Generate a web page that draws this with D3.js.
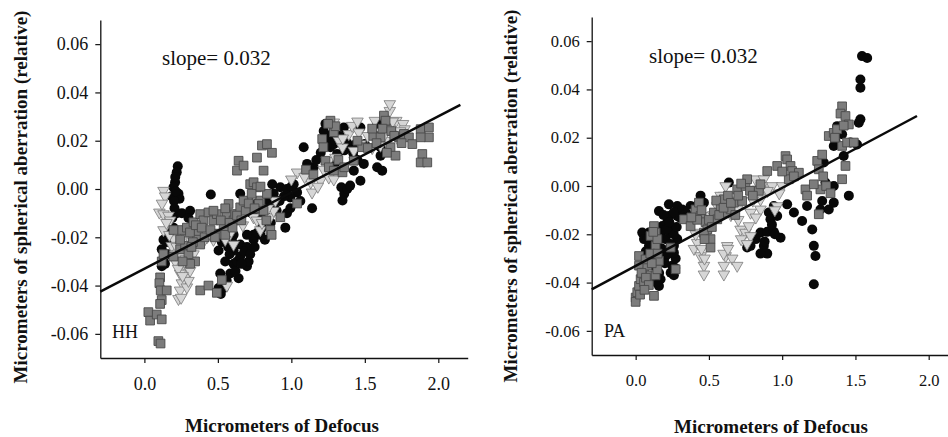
<!DOCTYPE html>
<html lang="en">
<head>
<meta charset="UTF-8">
<title>Spherical aberration vs defocus</title>
<style>
    body { margin: 0; background: #fff; }
    svg { display: block; }
</style>
</head>
<body>
<svg id="chart" width="948" height="437"></svg>
<script src="https://d3js.org/d3.v7.min.js"></script>
<script>
const serif = "'Liberation Serif', 'Times New Roman', serif";

// tick labels
const xTicks = [0, 0.5, 1.0, 1.5, 2.0];
const yTicks = [-0.06, -0.04, -0.02, 0.00, 0.02, 0.04, 0.06];
const xTitle = 'Micrometers of Defocus';
const yTitle = 'Micrometers of spherical aberration (relative)';
const slopeLabel = 'slope= 0.032';

// HH subject: [defocus, spherical aberration]
const hhCircles = [
    [0.227,0.0094],[0.22,0.0069],[0.209,0.0028],[0.198,0.0007],[0.232,-0.002],[0.239,-0.004],
    [0.186,-0.003],[0.202,-0.005],[0.22,-0.010],[0.255,-0.010],[0.311,-0.009],[0.30,-0.012],
    [0.198,-0.016],[0.13,-0.021],[0.118,-0.025],[0.14,-0.031],[0.118,-0.032],[0.452,-0.0023],
    [0.505,-0.0255],[0.516,-0.035],[0.52,-0.0435],[0.505,-0.041],[0.56,-0.038],[0.584,-0.035],
    [0.607,-0.031],[0.63,-0.030],[0.652,-0.028],[0.698,-0.032],[0.709,-0.030],[0.641,-0.037],
    [0.607,-0.0255],[0.652,-0.023],[0.698,-0.024],[0.743,-0.021],[0.789,-0.019],[0.82,-0.021],
    [0.743,-0.019],[0.698,-0.019],[0.607,-0.019],[0.527,-0.022],[0.652,-0.002],[0.709,-0.005],
    [0.766,-0.006],[0.811,-0.010],[0.834,-0.005],[0.88,-0.002],[0.925,0.0007],[0.902,-0.005],
    [0.97,-0.010],[0.959,-0.016],[0.993,-0.008],[1.016,0.002],[1.039,-0.0014],[1.061,-0.005],
    [1.084,0.0173],[1.107,0.0104],[1.152,0.009],[1.141,-0.008],[0.993,-0.0035],[1.232,0.027],
    [1.255,0.0214],[1.266,0.0173],[1.289,0.0186],[1.311,0.0145],[1.357,0.0255],[1.402,0.0173],
    [1.425,0.013],[1.439,0.0186],[1.493,0.0104],[1.425,0.0076],[1.34,0.0007],[1.36,-0.002],
    [1.38,0.0],[1.40,0.0014],[1.348,-0.0048],[1.47,0.0034],[1.584,0.009],[1.618,0.0076],
    [1.607,0.0138],[1.607,0.0173],[1.652,0.0255],[1.50,0.0186],[1.584,0.027],[1.47,0.0255],
    [0.21,0.005],[0.215,-0.001],[0.205,-0.008],[0.19,-0.012],[0.17,-0.018],[0.15,-0.022],
    [0.16,-0.027],[0.13,-0.029],[0.55,-0.030],[0.58,-0.027],[0.62,-0.034],[0.66,-0.031],
    [0.68,-0.026],[0.72,-0.027],[0.75,-0.024],[0.77,-0.018],[0.80,-0.016],[0.84,-0.012],
    [0.86,-0.014],[0.88,-0.008],[0.90,-0.009],[0.92,-0.005],[0.95,-0.003],[0.97,0.0],
    [1.0,0.001],[0.54,-0.041],[0.60,-0.022],[0.57,-0.024],[0.70,-0.008],[0.73,-0.010],
    [0.76,-0.012],[0.78,-0.008],[0.85,-0.003],[0.87,0.002],[0.82,-0.006],[1.22,0.024],
    [1.24,0.018],[1.28,0.023],[1.30,0.020],[1.33,0.022],[1.36,0.016],[1.38,0.019],
    [1.42,0.015],[1.45,0.012],[1.30,0.011],[1.20,0.015],[1.17,0.012],[1.12,0.009]
];
const hhSquares = [
    [0.027,-0.051],[0.039,-0.0545],[0.084,-0.052],[0.118,-0.054],[0.095,-0.063],[0.11,-0.064],
    [0.107,-0.0366],[0.102,-0.039],[0.111,-0.042],[0.118,-0.046],[0.107,-0.0476],[0.152,-0.042],
    [0.118,-0.030],[0.13,-0.027],[0.198,-0.028],[0.243,-0.025],[0.255,-0.017],[0.289,-0.016],
    [0.334,-0.0138],[0.38,-0.0104],[0.402,-0.013],[0.436,-0.0097],[0.47,-0.013],[0.493,-0.0104],
    [0.505,-0.0186],[0.539,-0.016],[0.561,-0.0104],[0.573,-0.0062],[0.607,-0.013],[0.618,-0.0104],
    [0.652,-0.0076],[0.675,-0.0048],[0.72,0.002],[0.743,0.0028],[0.766,0.0007],[0.789,-0.0048],
    [0.777,-0.0062],[0.811,-0.009],[0.834,-0.002],[0.857,-0.017],[0.866,-0.019],[0.368,-0.018],
    [0.357,-0.021],[0.38,-0.023],[0.345,-0.030],[0.311,-0.031],[0.277,-0.0235],[0.243,-0.021],
    [0.198,-0.017],[0.38,-0.042],[0.436,-0.040],[0.493,-0.043],[0.527,-0.0377],[0.641,0.0117],
    [0.63,0.0076],[0.675,0.0097],[0.766,0.013],[0.80,0.018],[0.834,0.0186],[0.868,0.015],
    [0.811,0.0076],[0.925,-0.0117],[1.039,-0.006],[1.21,0.0207],[1.218,0.0173],[1.266,0.0283],
    [1.289,0.0235],[1.232,0.0117],[1.255,0.009],[1.348,0.0069],[1.289,0.0076],[1.425,0.0117],
    [1.482,0.0173],[1.557,0.022],[1.607,0.0214],[1.63,0.0304],[1.641,0.0283],[1.675,0.0173],
    [1.709,0.0138],[1.732,0.0214],[1.766,0.0228],[1.80,0.0214],[1.823,0.0186],[1.88,0.0248],
    [1.936,0.0255],[1.936,0.0214],[1.88,0.0214],[1.891,0.0145],[1.88,0.011],[1.925,0.011],
    [0.31,-0.018],[0.33,-0.022],[0.35,-0.015],[0.39,-0.016],[0.41,-0.020],[0.45,-0.017],
    [0.48,-0.020],[0.52,-0.013],[0.55,-0.019],[0.58,-0.014],[0.60,-0.016],[0.63,-0.011],
    [0.66,-0.013],[0.69,-0.009],[0.71,-0.006],[0.73,-0.002],[0.75,-0.008],[0.79,0.001],
    [0.83,-0.013],[0.30,-0.027],[0.32,-0.024],[0.26,-0.030],[0.47,-0.009],[0.55,-0.008],
    [1.30,0.026],[1.25,0.027],[1.32,0.012],[1.36,0.009],[1.45,0.020],[1.52,0.017],
    [1.55,0.025],[1.58,0.019],[1.62,0.025],[1.68,0.024],[1.70,0.022],[1.75,0.019],
    [1.65,0.015],[1.10,0.008],[1.15,0.006]
];
const hhTriangles = [
    [0.13,-0.0007],[0.141,-0.003],[0.102,-0.0097],[0.13,-0.0104],[0.164,-0.011],[0.175,-0.013],
    [0.13,-0.017],[0.198,-0.0207],[0.186,-0.0235],[0.22,-0.024],[0.209,-0.027],[0.255,-0.028],
    [0.266,-0.031],[0.289,-0.032],[0.243,-0.035],[0.277,-0.0366],[0.255,-0.039],[0.243,-0.042],
    [0.232,-0.0455],[0.289,-0.0407],[0.30,-0.038],[0.311,-0.0338],[0.334,-0.027],[0.277,-0.0193],
    [0.289,-0.0214],[0.38,-0.0186],[0.425,-0.020],[0.47,-0.021],[0.561,-0.040],[0.584,-0.0186],
    [0.607,-0.023],[0.698,-0.0048],[0.709,-0.0076],[0.743,-0.0117],[0.766,-0.013],[0.789,-0.017],
    [0.857,-0.0117],[0.88,-0.009],[0.891,-0.0048],[1.039,0.0069],[1.132,0.0028],[1.141,-0.0014],
    [1.198,0.0034],[1.255,0.0048],[1.289,0.004],[1.255,0.0117],[1.289,0.0276],[1.323,0.020],
    [1.348,0.0173],[1.391,0.0228],[1.414,0.0262],[1.459,0.0235],[1.47,0.0186],[1.425,0.0159],
    [1.568,0.0283],[1.659,0.0248],[1.67,0.0324],[1.67,0.0352],[1.714,0.0283],[1.76,0.027],
    [1.77,0.0248],[1.659,0.020],[1.607,0.018],[1.725,0.0207],
    [0.12,-0.006],[0.15,-0.014],[0.17,-0.019],[0.21,-0.030],[0.23,-0.033],[0.26,-0.036],
    [0.28,-0.029],[0.30,-0.025],[0.32,-0.022],[0.25,-0.045],[0.36,-0.020],[0.40,-0.022],
    [0.50,-0.018],[0.55,-0.021],[0.64,-0.010],[0.67,-0.015],[0.72,-0.008],[0.80,-0.014],
    [0.84,-0.008],[1.00,0.004],[1.09,0.005],[1.18,0.001],[1.22,0.008],[1.30,0.013],
    [1.35,0.021],[1.45,0.028],[1.52,0.022],[1.55,0.017],[1.63,0.022],[1.69,0.028],[1.74,0.024]
];
const hhFitX = [-0.3, 2.15];
const hhFitY = [-0.0425, 0.0348];

// PA subject
const paCircles = [
    [0.045,-0.0193],[0.057,-0.022],[0.091,-0.0248],[0.136,-0.0276],[0.148,-0.030],[0.125,-0.033],
    [0.159,-0.0414],[0.17,-0.0386],[0.239,-0.0359],[0.261,-0.037],[0.25,-0.033],[0.273,-0.030],
    [0.261,-0.0248],[0.284,-0.022],[0.25,-0.018],[0.216,-0.015],[0.182,-0.0166],[0.17,-0.0193],
    [0.205,-0.022],[0.227,-0.0124],[0.159,-0.0104],[0.227,-0.0076],[0.284,-0.0083],[0.318,-0.0097],
    [0.375,-0.0083],[0.284,-0.0124],[0.239,-0.0193],[0.261,-0.0276],[0.205,-0.029],[0.091,-0.0193],
    [0.125,-0.022],[0.443,-0.004],[0.466,-0.0069],[0.636,0.0014],[0.784,-0.0248],[0.761,-0.0255],
    [0.852,-0.0193],[0.875,-0.0248],[0.898,-0.028],[0.852,-0.028],[0.898,-0.019],[0.943,-0.019],
    [0.989,-0.0214],[0.909,-0.011],[0.943,-0.0083],[0.92,-0.0138],[0.966,-0.0124],[1.034,-0.0076],
    [1.08,-0.011],[1.136,-0.0145],[1.17,-0.0083],[1.205,-0.018],[1.216,-0.0248],[1.227,-0.029],
    [1.216,-0.0407],[1.261,-0.0097],[1.273,-0.0062],[1.318,-0.0097],[1.352,-0.0069],[1.295,0.0014],
    [1.352,0.0],[1.455,-0.004],[1.352,0.0166],[1.364,0.0186],[1.375,0.0248],[1.409,0.0214],
    [1.466,0.018],[1.511,0.0172],[1.523,0.0262],[1.534,0.0276],[1.42,0.0124],[1.534,0.0407],
    [1.534,0.0441],[1.545,0.0538],[1.58,0.053],[1.284,0.0097],
    [0.07,-0.027],[0.10,-0.030],[0.12,-0.027],[0.15,-0.024],[0.18,-0.026],[0.20,-0.032],
    [0.22,-0.028],[0.24,-0.024],[0.26,-0.020],[0.28,-0.017],[0.30,-0.013],[0.21,-0.018],
    [0.19,-0.012],[0.23,-0.015],[0.27,-0.034],[0.16,-0.036],[0.14,-0.040],[0.11,-0.024],
    [0.08,-0.022],[0.26,-0.011],[0.33,-0.012],[0.36,-0.010],[0.40,-0.010],[0.42,-0.008],
    [0.82,-0.022],[0.88,-0.023],[0.93,-0.016],[0.95,-0.020]
];
const paSquares = [
    [0.0,-0.0462],[0.011,-0.044],[0.0,-0.048],[0.023,-0.0414],[0.034,-0.0386],[0.023,-0.033],
    [0.023,-0.029],[0.057,-0.0359],[0.057,-0.040],[0.08,-0.033],[0.102,-0.037],[0.068,-0.0304],
    [0.125,-0.0455],[0.136,-0.037],[0.148,-0.0345],[0.159,-0.031],[0.125,-0.0166],[0.136,-0.0193],
    [0.136,-0.0248],[0.102,-0.0207],[0.148,-0.022],[0.239,-0.0255],[0.273,-0.0345],[0.33,-0.0138],
    [0.375,-0.0166],[0.409,-0.0097],[0.432,-0.0069],[0.443,-0.0124],[0.477,-0.015],[0.489,-0.018],
    [0.466,-0.0193],[0.511,-0.022],[0.511,-0.0255],[0.534,-0.011],[0.557,-0.0138],[0.58,-0.0083],
    [0.602,-0.0055],[0.625,-0.011],[0.648,-0.0097],[0.67,-0.0069],[0.693,-0.0014],[0.727,-0.0062],
    [0.75,0.0],[0.761,0.0028],[0.841,-0.002],[0.852,0.0007],[0.898,0.0062],[0.966,0.0083],
    [1.023,0.0124],[1.034,0.011],[1.057,0.0083],[1.068,0.0062],[1.045,0.0028],[1.114,0.0055],
    [1.159,-0.0014],[1.17,-0.004],[1.239,0.0104],[1.25,0.0069],[1.273,0.013],[1.261,-0.0014],
    [1.25,-0.0117],[1.216,0.0007],[1.318,0.0207],[1.352,0.022],[1.375,0.0235],[1.409,0.033],
    [1.398,0.030],[1.432,0.029],[1.455,0.0255],[1.409,0.0166],[1.443,0.018],[1.432,0.0083],
    [1.409,0.0028],[1.489,0.018],
    [0.04,-0.036],[0.07,-0.038],[0.09,-0.041],[0.11,-0.032],[0.03,-0.045],[0.06,-0.043],
    [0.10,-0.028],[0.15,-0.028],[0.12,-0.019],[0.42,-0.014],[0.45,-0.010],[0.50,-0.014],
    [0.52,-0.017],[0.55,-0.006],[0.57,-0.012],[0.60,-0.009],[0.63,-0.004],[0.65,-0.007],
    [0.68,-0.012],[0.70,-0.004],[0.72,0.001],[0.78,-0.002],[0.80,-0.004],[0.47,-0.022],
    [0.38,-0.013],[1.08,0.004],[1.00,0.006],[1.28,0.004],[1.30,0.0],[1.33,-0.003],
    [1.36,0.020],[1.42,0.025]
];
const paTriangles = [
    [0.398,-0.026],[0.42,-0.0235],[0.443,-0.029],[0.466,-0.033],[0.466,-0.0366],[0.443,-0.0193],
    [0.489,-0.0193],[0.511,-0.0124],[0.557,-0.0083],[0.602,-0.004],[0.614,0.0],[0.625,-0.0248],
    [0.614,-0.029],[0.602,-0.033],[0.602,-0.0366],[0.659,-0.030],[0.693,-0.033],[0.716,-0.018],
    [0.75,-0.0193],[0.773,-0.0166],[0.784,-0.011],[0.818,0.0028],[0.83,-0.0014],[0.852,-0.0055],
    [0.886,-0.0014],[0.875,0.0028],[0.932,0.0],[0.966,-0.0083],[1.0,0.0],[0.852,-0.0097],
    [0.693,-0.0097],[0.58,-0.004],[0.409,-0.011],[0.784,-0.0207],
    [0.41,-0.020],[0.45,-0.026],[0.47,-0.030],[0.50,-0.016],[0.53,-0.012],[0.60,-0.028],
    [0.63,-0.026],[0.65,-0.012],[0.67,-0.006],[0.70,-0.014],[0.72,-0.022],[0.76,-0.024],
    [0.80,-0.006],[0.82,-0.013],[0.90,-0.002],[0.95,-0.010],[0.98,-0.003],[0.86,0.0]
];
const paFitX = [-0.3, 1.92];
const paFitY = [-0.0428, 0.029];

const svg = d3.select('#chart');

const panels = [
    { name: 'HH', circles: hhCircles, squares: hhSquares, triangles: hhTriangles,
      fitX: hhFitX, fitY: hhFitY, x0: 100.3, x1: 467.7, y0: 358, y1: 20,
      yTitleX: 27, yTitleY: 197, xTitleX: 282, xTitleY: 432,
      slopeX: 162, slopeY: 65, idX: 112, idY: 338, tickFont: 18 },
    { name: 'PA', circles: paCircles, squares: paSquares, triangles: paTriangles,
      fitX: paFitX, fitY: paFitY, x0: 591.7, x1: 958, y0: 355, y1: 17,
      yTitleX: 517, yTitleY: 196, xTitleX: 771, xTitleY: 433,
      slopeX: 649, slopeY: 63, idX: 604, idY: 337, tickFont: 16.5 }
];

const triangle = d3.symbol().type(d3.symbolTriangle).size(58)();
const square = d3.symbol().type(d3.symbolSquare).size(76)();

panels.forEach(p => {
    const x = d3.scaleLinear().domain([-0.3, 2.2]).range([p.x0, p.x1]);
    const y = d3.scaleLinear().domain([-0.07, 0.07]).range([p.y0, p.y1]);
    const g = svg.append('g');

    // axes
    const yAxis = g.append('g')
        .attr('transform', `translate(${p.x0},0)`)
        .call(d3.axisLeft(y).tickValues(yTicks).tickFormat(d => d.toFixed(2))
            .tickSize(5).tickSizeOuter(0).tickPadding(7));
    const xAxis = g.append('g')
        .attr('transform', `translate(0,${p.y0})`)
        .call(d3.axisBottom(x).tickValues(xTicks).tickFormat(d => d.toFixed(1))
            .tickSize(5).tickSizeOuter(0).tickPadding(14));
    [yAxis, xAxis].forEach(a => {
        a.attr('font-family', serif).attr('font-size', p.tickFont);
        a.select('.domain').attr('stroke', '#111').attr('stroke-width', 1.3);
        a.selectAll('.tick line').attr('stroke', '#111').attr('stroke-width', 1.2);
        a.selectAll('.tick text').attr('fill', '#111');
    });

    // circles
    g.append('g').selectAll('circle')
        .data(p.circles)
        .join('circle')
        .attr('cx', d => x(d[0]))
        .attr('cy', d => y(d[1]))
        .attr('r', 5)
        .attr('fill', '#080808');

    // triangles (pointing down)
    g.append('g').selectAll('path')
        .data(p.triangles)
        .join('path')
        .attr('d', triangle)
        .attr('transform', d => `translate(${x(d[0])},${y(d[1])}) rotate(180)`)
        .attr('fill', '#d6d6d6')
        .attr('stroke', '#7a7a7a')
        .attr('stroke-width', 0.8);

    // squares
    g.append('g').selectAll('path')
        .data(p.squares)
        .join('path')
        .attr('d', square)
        .attr('transform', d => `translate(${x(d[0])},${y(d[1])})`)
        .attr('fill', '#7c7c7c')
        .attr('stroke', '#4a4a4a')
        .attr('stroke-width', 0.9);

    // fitted line
    g.append('line')
        .attr('x1', x(p.fitX[0])).attr('y1', y(p.fitY[0]))
        .attr('x2', x(p.fitX[1])).attr('y2', y(p.fitY[1]))
        .attr('stroke', '#0a0a0a')
        .attr('stroke-width', 2.5);

    // labels
    g.append('text')
        .attr('x', p.slopeX).attr('y', p.slopeY)
        .attr('font-family', serif).attr('font-size', 21).attr('fill', '#111')
        .text(slopeLabel);
    g.append('text')
        .attr('x', p.idX).attr('y', p.idY)
        .attr('font-family', serif).attr('font-size', 18).attr('fill', '#111')
        .text(p.name);

    g.append('text')
        .attr('transform', `translate(${p.yTitleX},${p.yTitleY}) rotate(-90)`)
        .attr('text-anchor', 'middle')
        .attr('font-family', serif).attr('font-weight', 'bold')
        .attr('font-size', 19).attr('fill', '#111')
        .text(yTitle);
    g.append('text')
        .attr('x', p.xTitleX).attr('y', p.xTitleY)
        .attr('text-anchor', 'middle')
        .attr('font-family', serif).attr('font-weight', 'bold')
        .attr('font-size', 19).attr('fill', '#111')
        .text(xTitle);
});
</script>
</body>
</html>
